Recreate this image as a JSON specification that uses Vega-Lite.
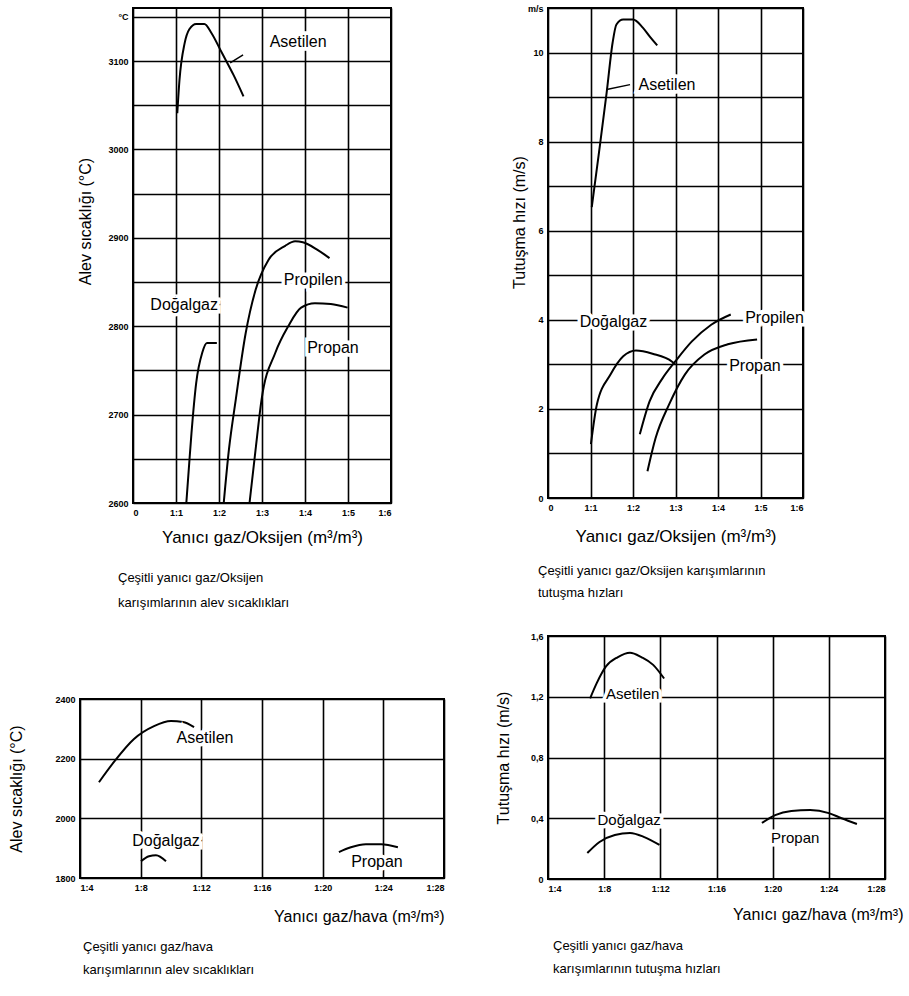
{
  "$schema": "https://vega.github.io/schema/vega-lite/v6.json",
  "background": "white",
  "padding": {"left": 7, "top": 3, "right": 0, "bottom": 0},
  "config": {
    "font": "Liberation Sans",
    "view": {"stroke": "black", "strokeWidth": 2},
    "axis": {"grid": true, "gridColor": "black", "gridWidth": 1.6, "gridOpacity": 1, "domain": false, "ticks": false, "labelFont": "Liberation Sans", "labelFontSize": 9, "labelFontWeight": "bold", "labelColor": "black", "titleFont": "Liberation Sans", "titleFontWeight": "normal", "titleColor": "black", "labelPadding": 5},
    "title": {"font": "Liberation Sans", "fontWeight": "normal", "fontSize": 13, "color": "black", "orient": "bottom", "anchor": "start", "frame": "group", "lineHeight": 23}
  },
  "datasets": {
    "p1_lines": [
      {"series": "Asetilen", "x": 1.03, "y": 3041}, {"series": "Asetilen", "x": 1.08, "y": 3078}, {"series": "Asetilen", "x": 1.2, "y": 3120}, {"series": "Asetilen", "x": 1.31, "y": 3136}, {"series": "Asetilen", "x": 1.47, "y": 3142}, {"series": "Asetilen", "x": 1.66, "y": 3142}, {"series": "Asetilen", "x": 1.82, "y": 3132}, {"series": "Asetilen", "x": 2.07, "y": 3109}, {"series": "Asetilen", "x": 2.34, "y": 3084}, {"series": "Asetilen", "x": 2.57, "y": 3060},
      {"series": "Doğalgaz", "x": 1.24, "y": 2600}, {"series": "Doğalgaz", "x": 1.3, "y": 2640}, {"series": "Doğalgaz", "x": 1.36, "y": 2679}, {"series": "Doğalgaz", "x": 1.47, "y": 2736}, {"series": "Doğalgaz", "x": 1.61, "y": 2770}, {"series": "Doğalgaz", "x": 1.72, "y": 2781}, {"series": "Doğalgaz", "x": 1.95, "y": 2781},
      {"series": "Propilen", "x": 2.11, "y": 2600}, {"series": "Propilen", "x": 2.23, "y": 2660}, {"series": "Propilen", "x": 2.39, "y": 2717}, {"series": "Propilen", "x": 2.62, "y": 2792}, {"series": "Propilen", "x": 2.85, "y": 2841}, {"series": "Propilen", "x": 3.15, "y": 2875}, {"series": "Propilen", "x": 3.54, "y": 2891}, {"series": "Propilen", "x": 3.77, "y": 2896}, {"series": "Propilen", "x": 3.95, "y": 2895}, {"series": "Propilen", "x": 4.3, "y": 2886}, {"series": "Propilen", "x": 4.57, "y": 2877},
      {"series": "Propan", "x": 2.71, "y": 2600}, {"series": "Propan", "x": 2.85, "y": 2660}, {"series": "Propan", "x": 2.99, "y": 2717}, {"series": "Propan", "x": 3.31, "y": 2770}, {"series": "Propan", "x": 3.61, "y": 2800}, {"series": "Propan", "x": 3.91, "y": 2821}, {"series": "Propan", "x": 4.23, "y": 2826}, {"series": "Propan", "x": 4.6, "y": 2825}, {"series": "Propan", "x": 4.99, "y": 2821}
    ],
    "p1_labels": [
      {"label": "Asetilen", "x": 3.84, "y": 3121}, {"label": "Doğalgaz", "x": 1.19, "y": 2824}, {"label": "Propilen", "x": 4.19, "y": 2852}, {"label": "Propan", "x": 4.65, "y": 2775}
    ],
    "p1_leaders": [
      {"x": 2.26, "y": 3098, "x2": 2.56, "y2": 3107}
    ],
    "p2_lines": [
      {"series": "Asetilen", "x": 1.03, "y": 6.53}, {"series": "Asetilen", "x": 1.2, "y": 7.76}, {"series": "Asetilen", "x": 1.38, "y": 9.1}, {"series": "Asetilen", "x": 1.52, "y": 10.22}, {"series": "Asetilen", "x": 1.61, "y": 10.63}, {"series": "Asetilen", "x": 1.77, "y": 10.74}, {"series": "Asetilen", "x": 2.0, "y": 10.74}, {"series": "Asetilen", "x": 2.23, "y": 10.56}, {"series": "Asetilen", "x": 2.41, "y": 10.34}, {"series": "Asetilen", "x": 2.57, "y": 10.16},
      {"series": "Doğalgaz", "x": 1.01, "y": 1.21}, {"series": "Doğalgaz", "x": 1.15, "y": 2.1}, {"series": "Doğalgaz", "x": 1.47, "y": 2.77}, {"series": "Doğalgaz", "x": 1.77, "y": 3.18}, {"series": "Doğalgaz", "x": 2.07, "y": 3.31}, {"series": "Doğalgaz", "x": 2.46, "y": 3.24}, {"series": "Doğalgaz", "x": 2.92, "y": 3.06}, {"series": "Doğalgaz", "x": 2.99, "y": 3.0},
      {"series": "Propilen", "x": 2.16, "y": 1.43}, {"series": "Propilen", "x": 2.39, "y": 2.17}, {"series": "Propilen", "x": 2.69, "y": 2.68}, {"series": "Propilen", "x": 2.99, "y": 3.06}, {"series": "Propilen", "x": 3.38, "y": 3.51}, {"series": "Propilen", "x": 3.84, "y": 3.89}, {"series": "Propilen", "x": 4.3, "y": 4.12},
      {"series": "Propan", "x": 2.34, "y": 0.6}, {"series": "Propan", "x": 2.53, "y": 1.34}, {"series": "Propan", "x": 2.85, "y": 2.1}, {"series": "Propan", "x": 3.22, "y": 2.77}, {"series": "Propan", "x": 3.68, "y": 3.22}, {"series": "Propan", "x": 4.23, "y": 3.45}, {"series": "Propan", "x": 4.92, "y": 3.56}
    ],
    "p2_labels": [
      {"label": "Asetilen", "x": 2.8, "y": 9.28}, {"label": "Doğalgaz", "x": 1.54, "y": 3.95}, {"label": "Propilen", "x": 5.33, "y": 4.05}, {"label": "Propan", "x": 4.87, "y": 2.97}
    ],
    "p2_leaders": [
      {"x": 1.38, "y": 9.17, "x2": 1.93, "y2": 9.28}
    ],
    "p3_lines": [
      {"series": "Asetilen", "x": 5.25, "y": 2121}, {"series": "Asetilen", "x": 6.24, "y": 2189}, {"series": "Asetilen", "x": 7.56, "y": 2266}, {"series": "Asetilen", "x": 8.88, "y": 2309}, {"series": "Asetilen", "x": 10.0, "y": 2326}, {"series": "Asetilen", "x": 10.79, "y": 2323}, {"series": "Asetilen", "x": 11.52, "y": 2306},
      {"series": "Doğalgaz", "x": 8.02, "y": 1856}, {"series": "Doğalgaz", "x": 8.55, "y": 1873}, {"series": "Doğalgaz", "x": 9.01, "y": 1876}, {"series": "Doğalgaz", "x": 9.67, "y": 1856},
      {"series": "Propan", "x": 21.07, "y": 1887}, {"series": "Propan", "x": 21.86, "y": 1903}, {"series": "Propan", "x": 22.85, "y": 1913}, {"series": "Propan", "x": 23.85, "y": 1913}, {"series": "Propan", "x": 24.96, "y": 1903}
    ],
    "p3_labels": [
      {"label": "Asetilen", "x": 12.24, "y": 2269}, {"label": "Doğalgaz", "x": 9.67, "y": 1923}, {"label": "Propan", "x": 23.58, "y": 1853}
    ],
    "p4_lines": [
      {"series": "Asetilen", "x": 7.0, "y": 1.19}, {"series": "Asetilen", "x": 7.47, "y": 1.29}, {"series": "Asetilen", "x": 8.13, "y": 1.4}, {"series": "Asetilen", "x": 8.95, "y": 1.46}, {"series": "Asetilen", "x": 9.84, "y": 1.49}, {"series": "Asetilen", "x": 10.67, "y": 1.46}, {"series": "Asetilen", "x": 11.49, "y": 1.41}, {"series": "Asetilen", "x": 12.27, "y": 1.32},
      {"series": "Doğalgaz", "x": 6.8, "y": 0.171}, {"series": "Doğalgaz", "x": 7.67, "y": 0.244}, {"series": "Doğalgaz", "x": 8.76, "y": 0.29}, {"series": "Doğalgaz", "x": 9.84, "y": 0.303}, {"series": "Doğalgaz", "x": 10.86, "y": 0.276}, {"series": "Doğalgaz", "x": 11.94, "y": 0.224},
      {"series": "Propan", "x": 19.24, "y": 0.369}, {"series": "Propan", "x": 20.18, "y": 0.421}, {"series": "Propan", "x": 21.33, "y": 0.448}, {"series": "Propan", "x": 22.67, "y": 0.454}, {"series": "Propan", "x": 24.0, "y": 0.434}, {"series": "Propan", "x": 24.91, "y": 0.4}, {"series": "Propan", "x": 26.0, "y": 0.362}
    ],
    "p4_labels": [
      {"label": "Asetilen", "x": 10.03, "y": 1.22}, {"label": "Doğalgaz", "x": 9.78, "y": 0.39}, {"label": "Propan", "x": 21.6, "y": 0.27}
    ]
  },
  "spacing": 49,
  "hconcat": [
    {
      "center": true,
      "bounds": "flush",
      "spacing": 196,
      "vconcat": [
        {
          "width": 258, "height": 495,
          "title": {"text": ["Çeşitli yanıcı gaz/Oksijen", "karışımlarının alev sıcaklıkları"], "dx": -15, "offset": 27, "lineHeight": 25},
          "encoding": {
            "x": {"field": "x", "type": "quantitative", "scale": {"domain": [0, 6], "nice": false, "zero": false}, "axis": {"values": [0, 1, 2, 3, 4, 5, 6], "labelExpr": "datum.value == 0 ? '0' : '1:' + datum.value", "title": "Yanıcı gaz/Oksijen (m³/m³)", "titleFontSize": 17, "titlePadding": 12}},
            "y": {"field": "y", "type": "quantitative", "scale": {"domain": [2600, 3160], "nice": false, "zero": false}, "axis": {"values": [2600, 2650, 2700, 2750, 2800, 2850, 2900, 2950, 3000, 3050, 3100, 3150], "labelExpr": "datum.value % 100 == 0 ? '' + datum.value : (datum.value == 3150 ? '°C' : '')", "title": "Alev sıcaklığı (°C)", "titleFontSize": 16, "titlePadding": 14, "titleY": 213}}
          },
          "layer": [
            {"data": {"name": "p1_lines"}, "mark": {"type": "line", "color": "black", "strokeWidth": 2, "interpolate": "monotone"}, "encoding": {"detail": {"field": "series"}}},
            {"data": {"name": "p1_leaders"}, "mark": {"type": "rule", "color": "black", "strokeWidth": 1.5}, "encoding": {"x2": {"field": "x2"}, "y2": {"field": "y2"}}},
            {"data": {"name": "p1_labels"}, "mark": {"type": "text", "fontSize": 16, "fill": "white", "stroke": "white", "strokeWidth": 7}, "encoding": {"text": {"field": "label"}}},
            {"data": {"name": "p1_labels"}, "mark": {"type": "text", "fontSize": 16, "color": "black"}, "encoding": {"text": {"field": "label"}}}
          ]
        },
        {
          "width": 364, "height": 179,
          "title": {"text": ["Çeşitli yanıcı gaz/hava", "karışımlarının alev sıcaklıkları"], "dx": 3, "offset": 17},
          "encoding": {
            "x": {"field": "x", "type": "quantitative", "scale": {"domain": [4, 28], "nice": false, "zero": false}, "axis": {"values": [4, 8, 12, 16, 20, 24, 28], "labelExpr": "'1:' + datum.value", "title": "Yanıcı gaz/hava (m³/m³)", "titleFontSize": 16, "titlePadding": 16, "titleAnchor": "end"}},
            "y": {"field": "y", "type": "quantitative", "scale": {"domain": [1800, 2400], "nice": false, "zero": false}, "axis": {"values": [1800, 2000, 2200, 2400], "labelExpr": "'' + datum.value", "title": "Alev sıcaklığı (°C)", "titleFontSize": 16, "titlePadding": 30}}
          },
          "layer": [
            {"data": {"name": "p3_lines"}, "mark": {"type": "line", "color": "black", "strokeWidth": 2, "interpolate": "monotone"}, "encoding": {"detail": {"field": "series"}}},
            {"data": {"name": "p3_labels"}, "mark": {"type": "text", "fontSize": 16, "fill": "white", "stroke": "white", "strokeWidth": 7}, "encoding": {"text": {"field": "label"}}},
            {"data": {"name": "p3_labels"}, "mark": {"type": "text", "fontSize": 16, "color": "black"}, "encoding": {"text": {"field": "label"}}}
          ]
        }
      ]
    },
    {
      "center": false,
      "bounds": "flush",
      "spacing": 138,
      "vconcat": [
        {
          "width": 255, "height": 490,
          "title": {"text": ["Çeşitli yanıcı gaz/Oksijen karışımlarının", "tutuşma hızları"], "dx": -10, "offset": 21, "lineHeight": 22},
          "encoding": {
            "x": {"field": "x", "type": "quantitative", "scale": {"domain": [0, 6], "nice": false, "zero": false}, "axis": {"values": [0, 1, 2, 3, 4, 5, 6], "labelExpr": "datum.value == 0 ? '0' : '1:' + datum.value", "title": "Yanıcı gaz/Oksijen (m³/m³)", "titleFontSize": 17, "titlePadding": 16}},
            "y": {"field": "y", "type": "quantitative", "scale": {"domain": [0, 11], "nice": false, "zero": false}, "axis": {"values": [0, 1, 2, 3, 4, 5, 6, 7, 8, 9, 10, 11], "labelExpr": "datum.value == 11 ? 'm/s' : (datum.value % 2 == 0 ? '' + datum.value : '')", "title": "Tutuşma hızı (m/s)", "titleFontSize": 16, "titlePadding": 0, "titleY": 214}}
          },
          "layer": [
            {"data": {"name": "p2_lines"}, "mark": {"type": "line", "color": "black", "strokeWidth": 2, "interpolate": "monotone"}, "encoding": {"detail": {"field": "series"}}},
            {"data": {"name": "p2_leaders"}, "mark": {"type": "rule", "color": "black", "strokeWidth": 1.5}, "encoding": {"x2": {"field": "x2"}, "y2": {"field": "y2"}}},
            {"data": {"name": "p2_labels"}, "mark": {"type": "text", "fontSize": 16, "fill": "white", "stroke": "white", "strokeWidth": 7}, "encoding": {"text": {"field": "label"}}},
            {"data": {"name": "p2_labels"}, "mark": {"type": "text", "fontSize": 16, "color": "black"}, "encoding": {"text": {"field": "label"}}}
          ]
        },
        {
          "width": 337, "height": 243,
          "title": {"text": ["Çeşitli yanıcı gaz/hava", "karışımlarının tutuşma hızları"], "dx": 5, "offset": 18},
          "encoding": {
            "x": {"field": "x", "type": "quantitative", "scale": {"domain": [4, 28], "nice": false, "zero": false}, "axis": {"values": [4, 8, 12, 16, 20, 24, 28], "labelExpr": "'1:' + datum.value", "title": "Yanıcı gaz/hava (m³/m³)", "titleFontSize": 16, "titlePadding": 13, "titleAnchor": "end", "titleX": 355, "titleAlign": "right"}},
            "y": {"field": "y", "type": "quantitative", "scale": {"domain": [0, 1.6], "nice": false, "zero": false}, "axis": {"values": [0, 0.4, 0.8, 1.2, 1.6], "labelExpr": "datum.value == 0 ? '0' : replace(format(datum.value, '.1f'), '.', ',')", "title": "Tutuşma hızı (m/s)", "titleFontSize": 16, "titlePadding": 19}}
          },
          "layer": [
            {"data": {"name": "p4_lines"}, "mark": {"type": "line", "color": "black", "strokeWidth": 2, "interpolate": "monotone"}, "encoding": {"detail": {"field": "series"}}},
            {"data": {"name": "p4_labels"}, "mark": {"type": "text", "fontSize": 15, "fill": "white", "stroke": "white", "strokeWidth": 7}, "encoding": {"text": {"field": "label"}}},
            {"data": {"name": "p4_labels"}, "mark": {"type": "text", "fontSize": 15, "color": "black"}, "encoding": {"text": {"field": "label"}}}
          ]
        }
      ]
    }
  ]
}
